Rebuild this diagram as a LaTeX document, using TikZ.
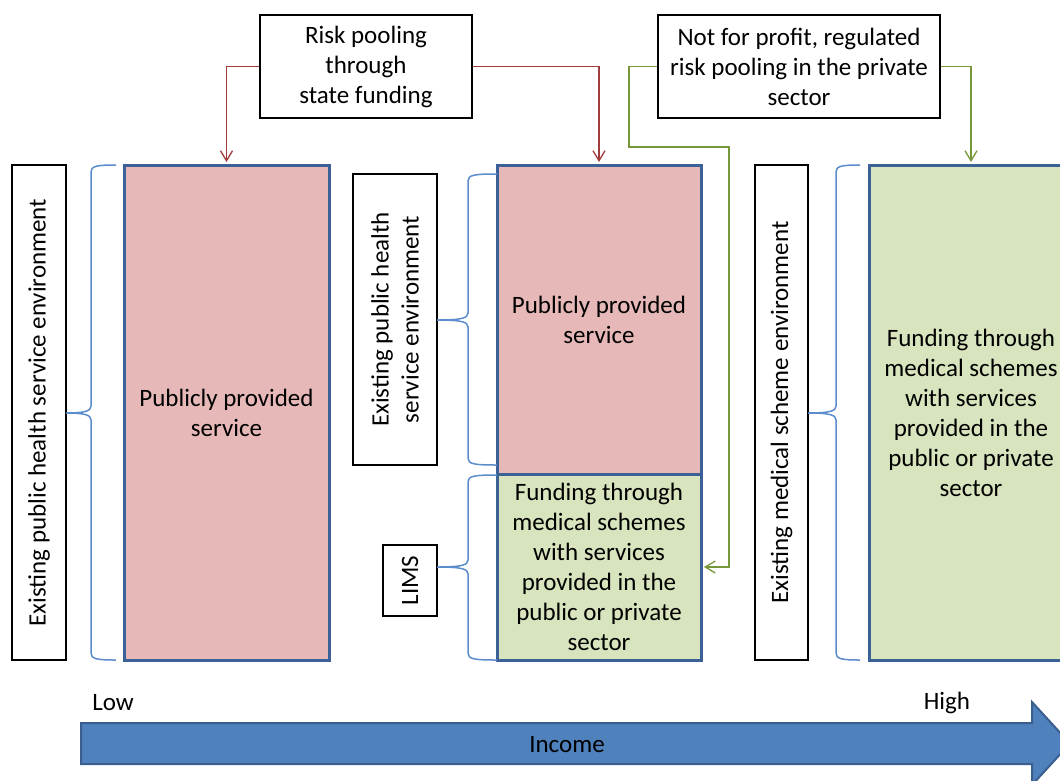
\documentclass[tikz,border=0pt]{standalone}
\usepackage{fontspec}
\setmainfont{Carlito}
\usetikzlibrary{arrows.meta}
\tikzset{>={Straight Barb[length=10pt,width=12pt]}}
\definecolor{pubpink}{HTML}{E6B9B8}
\definecolor{schgreen}{HTML}{D7E4BD}
\definecolor{boxblue}{HTML}{3C6196}
\definecolor{bracecol}{HTML}{5B8CCB}
\definecolor{poolred}{HTML}{A03C3C}
\definecolor{poolgreen}{HTML}{77983A}
\definecolor{incfill}{HTML}{4F81BD}
\definecolor{incedge}{HTML}{3A5F8E}
\tikzset{
  txt/.style={font=\fontsize{25}{30}\selectfont, align=center, inner sep=0pt},
  labelbox/.style={txt, draw=black, line width=1.5pt, rotate=90},
  poolbox/.style={txt, draw=black, line width=1.5pt},
  tier/.style={txt, draw=boxblue, line width=3pt},
  redline/.style={draw=poolred, line width=1.3pt, ->, shorten >=1.5pt},
  greenline/.style={draw=poolgreen, line width=1.3pt, ->, shorten >=1.5pt},
  bracket/.style={draw=bracecol, line width=1.5pt},
}
% end x, spine x, tip x, top y, bottom y, middle y
\newcommand\curlybr[6]{%
  \draw[bracket] (#1,#4) .. controls (#2+6,#4) and (#2,#4+1) .. (#2,#4+7)
    -- (#2,#6-7) .. controls (#2,#6-2) and (#2-6,#6) .. (#3,#6)
    .. controls (#2-6,#6) and (#2,#6+2) .. (#2,#6+7)
    -- (#2,#5-7) .. controls (#2,#5-1) and (#2+6,#5) .. (#1,#5);}

\begin{document}
\begin{tikzpicture}[x=1pt, y=-1pt]
    \useasboundingbox (0,0) rectangle (1060,780);
    % funding routes
    \node[poolbox, minimum width=212, minimum height=103] (pool1) at (366,66.5) {Risk pooling\\through\\state funding};
    \node[poolbox, minimum width=282, minimum height=103] (pool2) at (799,66.5) {Not for profit, regulated\\risk pooling in the private\\sector};
    % income tiers
    \node[tier, fill=pubpink, minimum width=205, minimum height=495] (pub1) at (226.5,412.5) {Publicly provided\\service};
    \node[tier, fill=pubpink, minimum width=204, minimum height=309] (pub2) at (599,319.5) {Publicly provided\\service};
    \node[tier, fill=schgreen, minimum width=204, minimum height=186] (lims2) at (599,567) {Funding through\\medical schemes\\with services\\provided in the\\public or private\\sector};
    \node[tier, fill=schgreen, minimum width=204, minimum height=495] (med3) at (971,412.5) {Funding through\\medical schemes\\with services\\provided in the\\public or private\\sector};
    % environments
    \node[labelbox, minimum width=495, minimum height=54] (envL) at (39,412.5) {Existing public health service environment};
    \node[labelbox, minimum width=291, minimum height=84] (envM) at (395,319.5) {Existing public health\\service environment};
    \node[labelbox, minimum width=71, minimum height=54] (limsL) at (410,580.5) {LIMS};
    \node[labelbox, minimum width=495, minimum height=53] (envR) at (781.5,412.5) {Existing medical scheme environment};
    \curlybr{116}{91}{66}{165}{660}{413}
    \curlybr{497}{468}{437}{174}{465}{320}
    \curlybr{497}{468}{437}{475}{660}{567}
    \curlybr{860}{836}{808}{165}{660}{413}
    % arrows
    \coordinate (bendA) at (629,147);
    \coordinate (bendB) at (729,147);
    \draw[redline] (pool1.west) -| (pub1.north);
    \draw[redline] (pool1.east) -| (pub2.north);
    \draw[greenline] (pool2.east) -| (med3.north);
    \draw[greenline] (pool2.west) -| (bendA) -- (bendB) |- (lims2.east);
    % income axis
    \draw[fill=incfill, draw=incedge, line width=2pt] (81,723) -- (1032,723) -- (1032,702) -- (1070,743.5)
        -- (1032,785) -- (1032,764) -- (81,764) -- cycle;
    \node[txt] (income) at (567,745) {Income};
    \node[txt] (low) at (113,703) {Low};
    \node[txt] (high) at (947,703) {High};
\end{tikzpicture}
\end{document}
